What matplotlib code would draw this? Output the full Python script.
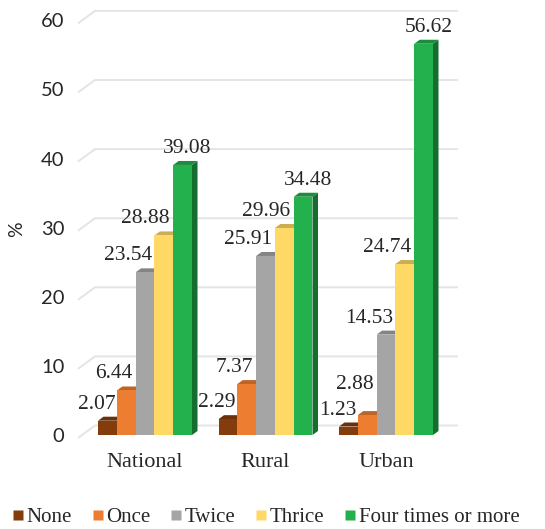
import matplotlib
matplotlib.use("Agg")
import matplotlib.pyplot as plt
from matplotlib.patches import Polygon, Rectangle
from matplotlib.lines import Line2D

# ---- data -------------------------------------------------------------
regions = ["National", "Rural", "Urban"]
series = ["None", "Once", "Twice", "Thrice", "Four times or more"]
none_pct = [2.07, 2.29, 1.23]
once_pct = [6.44, 7.37, 2.88]
twice_pct = [23.54, 25.91, 14.53]
thrice_pct = [28.88, 29.96, 24.74]
four_pct = [39.08, 34.48, 56.62]
y_ticks = [0, 10, 20, 30, 40, 50, 60]

values = [none_pct, once_pct, twice_pct, thrice_pct, four_pct]

# ---- style ------------------------------------------------------------
colors = ["#843c0c", "#ed7d31", "#a5a5a5", "#ffd966", "#22b14c"]
SERIF = ["Liberation Serif", "DejaVu Serif"]
SANS = ["Lato", "DejaVu Sans"]
TEXT = "#262626"
GRID = "#e4e4e4"


def shade(hex_color, f):
    r, g, b = (int(hex_color[i:i + 2], 16) for i in (1, 3, 5))
    return "#%02x%02x%02x" % (int(r * f), int(g * f), int(b * f))


# ---- figure / axes in pixel-calibrated layout -------------------------
W, H = 545, 529
fig = plt.figure(figsize=(W / 100, H / 100), dpi=100)

cat_px = 120.5      # pixels between group centres
val_px = 6.91       # pixels per percentage point
x0_px = 145.0       # pixel x of the first group centre
y0_px = 435.0       # pixel y of the zero level
xlim = (-0.6, 2.7)
ylim = (0, 62)
left = x0_px + xlim[0] * cat_px
right = x0_px + xlim[1] * cat_px
top = y0_px - ylim[1] * val_px
ax = fig.add_axes([left / W, 1 - y0_px / H, (right - left) / W, (y0_px - top) / H])
ax.set_xlim(*xlim)
ax.set_ylim(*ylim)
for s in ax.spines.values():
    s.set_visible(False)


def dx(p):
    return p / cat_px


def dy(p):
    return p / val_px


def px_to_x(p):
    return (p - x0_px) / cat_px


# ---- back wall gridlines (with perspective slant on the left) ---------
gx_front = px_to_x(78)
gx_back = px_to_x(95)
gx_end = px_to_x(458)
for v in y_ticks:
    ax.plot([gx_front, gx_back, gx_end], [v - dy(3), v + dy(9.5), v + dy(9.5)],
            color=GRID, lw=1.4, zorder=1, clip_on=False, solid_capstyle="butt")

# ---- pseudo-3D bars ---------------------------------------------------
bw = 18.8 / cat_px
ddx, ddy = dx(5.5), dy(4)
label_dx = [-11, -12, -17, -18, 5]          # horizontal label shift (px)
label_dy = {(2, 1): 26}                      # special vertical shift (px)

z = 2
for i in range(len(regions)):
    for j, vals in enumerate(values):
        v = vals[i]
        x = i + (j - 2.5) * bw
        c = colors[j]
        ax.add_patch(Polygon([(x + bw, 0), (x + bw + ddx, ddy), (x + bw + ddx, v + ddy), (x + bw, v)],
                             closed=True, facecolor=shade(c, 0.62), edgecolor="none",
                             zorder=z, clip_on=False))
        ax.add_patch(Polygon([(x, v), (x + bw, v), (x + bw + ddx, v + ddy), (x + ddx, v + ddy)],
                             closed=True, facecolor=shade(c, 0.8), edgecolor="none",
                             zorder=z, clip_on=False))
        ax.add_patch(Rectangle((x, 0), bw, v, facecolor=c, edgecolor="none",
                               zorder=z + 0.5, clip_on=False))
        z += 1
        off_y = label_dy.get((i, j), 12)
        ax.annotate(f"{v:.2f}", xy=(x + bw / 2, v),
                    xytext=(label_dx[j] * 0.72, off_y * 0.72), textcoords="offset points",
                    ha="center", va="baseline", fontsize=15.5, family=SERIF,
                    color=TEXT, zorder=100, annotation_clip=False)

# ---- axes text --------------------------------------------------------
ax.set_yticks(y_ticks)
ax.set_yticklabels([str(t) for t in y_ticks], family=SANS, fontsize=14.5, color=TEXT)
ax.set_xticks(range(len(regions)))
ax.set_xticklabels(regions, family=SERIF, fontsize=16, color=TEXT)
ax.tick_params(axis="y", length=0, pad=6)
ax.tick_params(axis="x", length=0, pad=13)
ax.set_ylabel("%", family=SANS, fontsize=14, color=TEXT)
ax.yaxis.set_label_coords((25 - left) / (right - left), (y0_px - 229) / (y0_px - top))

# ---- legend -----------------------------------------------------------
handles = [Line2D([], [], marker="s", linestyle="none", markersize=7,
                  markerfacecolor=c, markeredgecolor="none") for c in colors]
fig.legend(handles, series, loc="center", bbox_to_anchor=(266 / W, 1 - 517 / H),
           ncol=5, frameon=False, handlelength=0.5, handletextpad=0.15,
           columnspacing=1.0, borderpad=0, borderaxespad=0,
           prop={"family": SERIF, "size": 15}, labelcolor=TEXT)

fig.savefig("out.png", dpi=100, facecolor="white")
